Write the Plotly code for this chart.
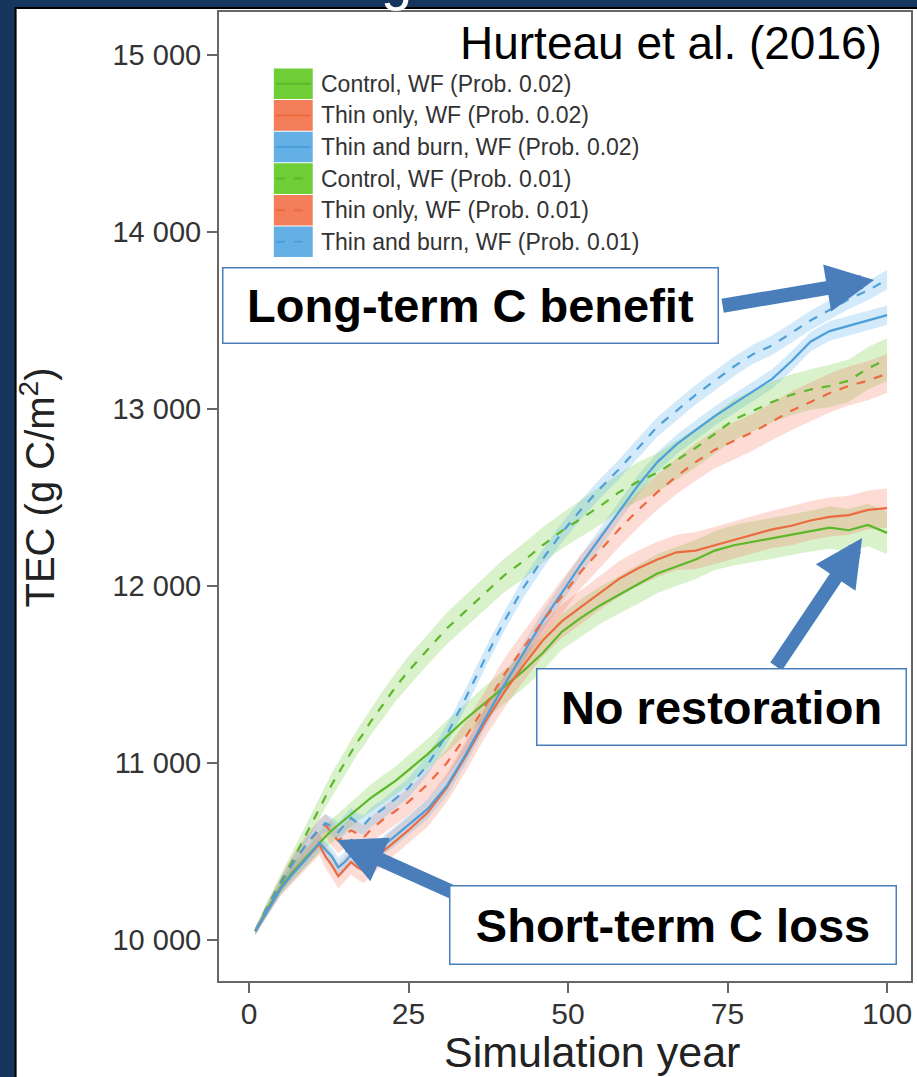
import plotly.graph_objects as go

# ---------------- data ----------------
years = [1, 3, 5, 7, 9, 11, 12, 13, 14, 15, 16, 17, 18, 19, 21, 23, 25, 28, 31, 34, 37,
         40, 43, 46, 49, 52, 55, 58, 61, 64, 67, 70, 73, 76, 79, 82, 85, 88, 91, 94, 97, 100]

control_02 = [10050, 10180, 10300, 10390, 10470, 10550, 10585, 10620, 10650, 10680, 10710, 10740,
              10770, 10800, 10850, 10900, 10960, 11050, 11150, 11250, 11340, 11430, 11520, 11620,
              11740, 11820, 11890, 11950, 12010, 12070, 12110, 12150, 12200, 12230, 12250, 12270,
              12290, 12310, 12330, 12315, 12345, 12300]
thin_02 = [10050, 10170, 10290, 10380, 10460, 10540, 10470, 10420, 10360, 10400, 10440, 10410,
           10390, 10430, 10500, 10560, 10620, 10720, 10860, 11040, 11230, 11400, 11550, 11690,
           11800, 11880, 11960, 12040, 12100, 12150, 12190, 12200, 12230, 12260, 12290, 12320,
           12340, 12370, 12390, 12400, 12430, 12440]
burn_02 = [10050, 10170, 10290, 10380, 10460, 10550, 10510, 10470, 10410, 10440, 10480, 10460,
           10450, 10480, 10530, 10590, 10650, 10740, 10870, 11050, 11250, 11440, 11620, 11800,
           11960, 12120, 12270, 12420, 12570, 12700, 12800, 12880, 12960, 13030, 13100, 13170,
           13270, 13380, 13440, 13470, 13500, 13530]
control_01 = [10050, 10200, 10330, 10460, 10600, 10740, 10810, 10880, 10940, 11000, 11060, 11120,
              11170, 11230, 11330, 11430, 11520, 11640, 11760, 11860, 11960, 12060, 12140, 12230,
              12310, 12380, 12450, 12530, 12590, 12640, 12710, 12780, 12860, 12940, 12990, 13040,
              13080, 13110, 13130, 13160, 13230, 13280]
thin_01 = [10050, 10190, 10320, 10440, 10540, 10620, 10650, 10600, 10560, 10590, 10620, 10600,
           10580, 10620, 10680, 10730, 10780, 10880, 11000, 11150, 11320, 11500, 11650, 11800,
           11940, 12080, 12200, 12320, 12430, 12530, 12620, 12700, 12770, 12820, 12870, 12930,
           12990, 13040, 13090, 13130, 13160, 13200]
burn_01 = [10050, 10190, 10320, 10440, 10540, 10630, 10660, 10640, 10610, 10650, 10690, 10660,
           10650, 10690, 10740, 10800, 10860, 10990, 11160, 11370, 11590, 11800, 11990, 12150,
           12300, 12430, 12550, 12660, 12780, 12900, 12990, 13080, 13160, 13240, 13310, 13360,
           13430, 13500, 13560, 13620, 13670, 13730]

# half-width of the shaded uncertainty ribbons
band_control_02 = [20, 30, 40, 50, 55, 60, 60, 65, 65, 70, 70, 70, 75, 75, 80, 80, 85, 85, 90, 90, 95,
                   95, 100, 100, 100, 105, 105, 105, 110, 110, 110, 110, 110, 115, 115, 115, 115, 115,
                   120, 120, 120, 120]
band_thin_02 = [20, 30, 40, 50, 55, 60, 65, 70, 70, 70, 70, 70, 70, 70, 75, 75, 75, 80, 80, 85, 85,
                90, 90, 90, 95, 95, 95, 100, 100, 100, 100, 105, 105, 105, 105, 105, 110, 110, 110,
                110, 110, 110]
band_burn_02 = [20, 25, 30, 35, 40, 45, 50, 50, 55, 55, 55, 55, 55, 55, 55, 55, 55, 55, 55, 55, 55,
                55, 55, 55, 55, 55, 55, 55, 55, 55, 55, 55, 55, 55, 55, 55, 55, 55, 55, 55, 55, 55]
band_control_01 = [20, 30, 40, 50, 55, 60, 60, 65, 65, 70, 70, 70, 75, 75, 80, 80, 85, 85, 90, 90,
                   95, 95, 100, 100, 100, 105, 105, 105, 110, 110, 110, 110, 110, 115, 115, 115, 115,
                   115, 120, 120, 120, 120]
band_thin_01 = [20, 30, 40, 50, 55, 60, 65, 70, 70, 70, 70, 70, 70, 70, 75, 75, 75, 80, 80, 85, 85,
                90, 90, 90, 95, 95, 95, 100, 100, 100, 100, 105, 105, 105, 105, 105, 110, 110, 110,
                110, 110, 110]
band_burn_01 = [20, 25, 30, 35, 40, 45, 50, 50, 55, 55, 55, 55, 55, 55, 55, 55, 55, 55, 55, 55, 55,
                55, 55, 55, 55, 55, 55, 55, 55, 55, 55, 55, 55, 55, 55, 55, 55, 55, 55, 55, 55, 55]

series_names = ["Control, WF (Prob. 0.02)", "Thin only, WF (Prob. 0.02)",
                "Thin and burn, WF (Prob. 0.02)", "Control, WF (Prob. 0.01)",
                "Thin only, WF (Prob. 0.01)", "Thin and burn, WF (Prob. 0.01)"]

x_ticks = [0, 25, 50, 75, 100]
x_tick_labels = ["0", "25", "50", "75", "100"]
y_ticks = [10000, 11000, 12000, 13000, 14000, 15000]
y_tick_labels = ["10 000", "11 000", "12 000", "13 000", "14 000", "15 000"]

# ---------------- styling ----------------
FONT = "Liberation Sans, Arial, sans-serif"
NAVY = "#17365d"
ARROW = "#4a7ebb"
line_cols = {"g": "#5cb82a", "o": "#ec6a40", "b": "#4d9fd9"}
swatch_cols = {"g": "#6fcd36", "o": "#f47e59", "b": "#63afe6"}
band_cols = {"g": "rgba(120,210,70,0.28)", "o": "rgba(245,130,100,0.28)", "b": "rgba(110,185,240,0.30)"}

values = [control_02, thin_02, burn_02, control_01, thin_01, burn_01]
bands = [band_control_02, band_thin_02, band_burn_02, band_control_01, band_thin_01, band_burn_01]
keys = ["g", "o", "b", "g", "o", "b"]
dashes = ["solid", "solid", "solid", "dash", "dash", "dash"]

# plot-area pixel bounds (for placing decorations in paper coordinates)
W, H = 917, 1077
L, R, T, B = 219, 913, 12, 981


def px(x):
    return (x - L) / (R - L)


def py(y):
    return (B - y) / (B - T)


fig = go.Figure()

for v, bw, k in zip(values, bands, keys):
    upper = [a + b for a, b in zip(v, bw)]
    lower = [a - b for a, b in zip(v, bw)]
    fig.add_trace(go.Scatter(x=years + years[::-1], y=upper + lower[::-1], fill="toself",
                             fillcolor=band_cols[k], line=dict(width=0), mode="lines",
                             hoverinfo="skip", showlegend=False))

for v, k, d, n in zip(values, keys, dashes, series_names):
    fig.add_trace(go.Scatter(x=years, y=v, mode="lines", name=n,
                             line=dict(color=line_cols[k], width=2.2, dash=d),
                             showlegend=False))

shapes = []
annotations = []

# white panel on the navy slide
shapes.append(dict(type="rect", xref="paper", yref="paper", x0=px(15), x1=px(925), y0=py(1090),
                   y1=py(8), fillcolor="white", line=dict(color="black", width=2), layer="below"))

# manual legend
row_h = 31.6
for i, (n, k, d) in enumerate(zip(series_names, keys, dashes)):
    y0 = 68 + row_h * i
    shapes.append(dict(type="rect", xref="paper", yref="paper", x0=px(274), x1=px(313),
                       y0=py(y0 + row_h - 0.5), y1=py(y0 + 0.5), fillcolor=swatch_cols[k],
                       line=dict(width=0)))
    shapes.append(dict(type="line", xref="paper", yref="paper", x0=px(276), x1=px(311),
                       y0=py(y0 + row_h / 2), y1=py(y0 + row_h / 2),
                       line=dict(color=line_cols[k], width=2, dash="dash" if d == "dash" else "solid")))
    annotations.append(dict(xref="paper", yref="paper", x=px(319), y=py(y0 + row_h / 2),
                            xanchor="left", yanchor="middle", text=n, showarrow=False,
                            font=dict(family=FONT, size=23, color="#333333")))

# source note
annotations.append(dict(xref="paper", yref="paper", x=px(886), y=py(43), xanchor="right",
                        yanchor="middle", text="Hurteau et al. (2016)", showarrow=False,
                        font=dict(family=FONT, size=46, color="black")))

# cut-off slide title fragment
annotations.append(dict(xref="paper", yref="paper", x=px(397), y=py(-20), xanchor="center",
                        yanchor="middle", text="g", showarrow=False,
                        font=dict(family=FONT, size=56, color="white")))

# axis titles
annotations.append(dict(xref="paper", yref="paper", x=px(37), y=py(488), xanchor="center",
                        yanchor="middle", text="TEC (g C/m<sup>2</sup>)", textangle=-90,
                        showarrow=False, font=dict(family=FONT, size=40, color="#222222")))
annotations.append(dict(xref="paper", yref="paper", x=px(593), y=py(1052), xanchor="center",
                        yanchor="middle", text="Simulation year", showarrow=False,
                        font=dict(family=FONT, size=43, color="#222222")))

# arrows (tip given in data units, tail offset in pixels)
def data_x(pxx):
    return -4.7 + (pxx - L) / (R - L) * (103.75 + 4.7)


def data_y(pyy):
    return 15243 - (pyy - T) / (B - T) * (15243 - 9768)


for tip, tail in [((876, 280), (723, 306)), ((864, 538), (777, 668)), ((337, 840), (455, 893))]:
    annotations.append(dict(x=data_x(tip[0]), y=data_y(tip[1]), xref="x", yref="y",
                            ax=tail[0] - tip[0], ay=tail[1] - tip[1], text="", showarrow=True,
                            arrowhead=2, arrowwidth=14, arrowsize=0.68, arrowcolor=ARROW))

# callout boxes
for text, (x0, y0, x1, y1) in [("Long-term C benefit", (223, 267, 720, 344)),
                               ("No restoration", (537, 668, 908, 746)),
                               ("Short-term C loss", (450, 885, 898, 965))]:
    annotations.append(dict(xref="paper", yref="paper", x=px((x0 + x1) / 2), y=py((y0 + y1) / 2),
                            xanchor="center", yanchor="middle", text="<b>%s</b>" % text,
                            showarrow=False, width=x1 - x0 - 3, height=y1 - y0 - 3,
                            bgcolor="white", bordercolor=ARROW, borderwidth=1.5, borderpad=0,
                            font=dict(family=FONT, size=47, color="black")))

fig.update_layout(
    width=W, height=H,
    margin=dict(l=L, r=W - R, t=T, b=H - B, pad=0),
    paper_bgcolor=NAVY, plot_bgcolor="white",
    showlegend=False,
    shapes=shapes, annotations=annotations,
    xaxis=dict(range=[-4.7, 103.75], tickvals=x_ticks, ticktext=x_tick_labels, showgrid=False,
               zeroline=False, ticks="outside", ticklen=10, tickwidth=2, tickcolor="#666666",
               showline=True, linecolor="#666666", linewidth=2, mirror=True,
               ticklabelstandoff=-5,
               tickfont=dict(family=FONT, size=30, color="#333333")),
    yaxis=dict(range=[9768, 15243], tickvals=y_ticks, ticktext=y_tick_labels, showgrid=False,
               zeroline=False, ticks="outside", ticklen=10, tickwidth=2, tickcolor="#666666",
               showline=True, linecolor="#666666", linewidth=2, mirror=True,
               tickfont=dict(family=FONT, size=29, color="#333333")),
)

fig.write_html("out.html")
